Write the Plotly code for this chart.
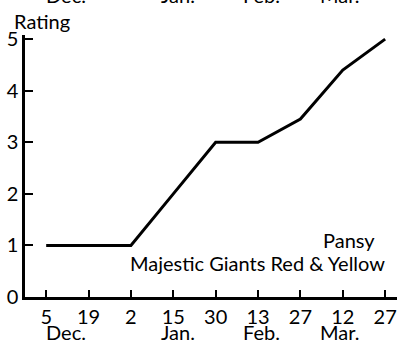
import plotly.graph_objects as go

# Semi-monthly observation dates (evenly spaced on the axis)
tick_days = ["5", "19", "2", "15", "30", "13", "27", "12", "27"]
positions = list(range(len(tick_days)))

# Flower rating at each observation
ratings = [1, 1, 1, 2, 3, 3, 3.45, 4.4, 5]

months = ["Dec.", "Jan.", "Feb.", "Mar."]
month_pos = [0.47, 3.11, 5.08, 6.93]

FONT = "Lato"
SIZE = 20
fig = go.Figure()
fig.add_trace(go.Scatter(
    x=positions, y=ratings, mode="lines",
    line=dict(color="black", width=3),
    hoverinfo="skip",
))

ann = []
for m, p in zip(months, month_pos):
    ann.append(dict(x=p, y=0, xref="x", yref="paper", text=m, showarrow=False,
                    xanchor="center", yanchor="top", yshift=-21,
                    font=dict(family=FONT, size=SIZE, color="black")))
    # month row of the chart above, mostly off the page
    ann.append(dict(x=p, y=1, xref="x", yref="paper", text=m, showarrow=False,
                    xanchor="center", yanchor="bottom", yshift=26,
                    font=dict(family=FONT, size=SIZE, color="black")))

ann.append(dict(x=0, y=1, xref="paper", yref="paper", text="Rating", showarrow=False,
                xanchor="left", yanchor="bottom", xshift=-13, yshift=0,
                font=dict(family=FONT, size=SIZE, color="black")))
ann.append(dict(x=7.8, y=1.1, xref="x", yref="y", text="Pansy", showarrow=False,
                xanchor="right", yanchor="middle",
                font=dict(family=FONT, size=SIZE, color="black")))
ann.append(dict(x=8.04, y=0.66, xref="x", yref="y", text="Majestic Giants Red & Yellow",
                showarrow=False, xanchor="right", yanchor="middle",
                font=dict(family=FONT, size=SIZE, color="black")))

fig.update_layout(
    width=397, height=341,
    margin=dict(l=25, r=0, t=35, b=44),
    paper_bgcolor="white", plot_bgcolor="white",
    showlegend=False,
    font=dict(family=FONT, size=SIZE, color="black"),
    annotations=ann,
    xaxis=dict(
        range=[-0.5, 8.28], tickmode="array", tickvals=positions, ticktext=tick_days,
        showgrid=False, zeroline=False, showline=True, linecolor="black", linewidth=2.5,
        ticks="inside", ticklen=7, tickwidth=2, tickcolor="black",
        tickfont=dict(family=FONT, size=SIZE, color="black"),
        fixedrange=True,
    ),
    yaxis=dict(
        range=[0, 5.08], tickmode="array", tickvals=[0, 1, 2, 3, 4, 5],
        showgrid=False, zeroline=False, showline=True, linecolor="black", linewidth=2.5,
        ticks="inside", ticklen=8, tickwidth=2, tickcolor="black",
        tickfont=dict(family=FONT, size=SIZE, color="black"),
        fixedrange=True,
    ),
)

fig.write_html("out.html", config={"displayModeBar": False})
